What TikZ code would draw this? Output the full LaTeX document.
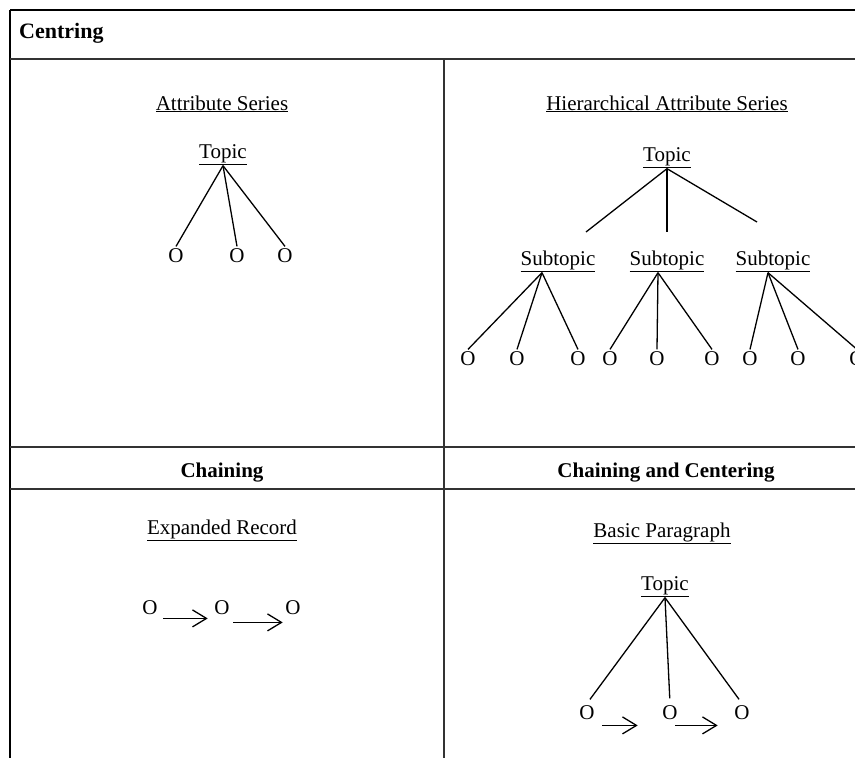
\documentclass[tikz,border=0pt]{standalone}
\usepackage{fontspec}
\setmainfont{Liberation Serif}
\usetikzlibrary{arrows.meta, positioning}

\begin{document}
\begin{tikzpicture}[
    x=1pt, y=-1pt,
    rule/.style={draw=black!80, line width=1.6pt},
    title/.style={font=\fontsize{21}{24}\selectfont, inner sep=1pt, anchor=base},
    head/.style={font=\fontsize{21}{24}\selectfont\bfseries, inner sep=0pt, anchor=base},
    item/.style={font=\fontsize{21}{24}\selectfont, inner sep=1.5pt, anchor=base},
    edge/.style={line width=1.3pt},
    chain/.style={-{Straight Barb[length=14pt, width=17pt, line width=1.3pt]}, line width=1.3pt}
]

\useasboundingbox (0,0) rectangle (855,758);
\clip (0,0) rectangle (855,758);

% table rules
\draw[rule, line width=2.4pt, draw=black] (10,10) -- (855,10);
\draw[rule, line width=2.4pt, draw=black] (10,10) -- (10,758);
\draw[rule] (10,59) -- (855,59);
\draw[rule] (444,59) -- (444,758);
\draw[rule] (10,447) -- (855,447);
\draw[rule] (10,489) -- (855,489);

\node[head, anchor=base west, font=\fontsize{22}{24}\selectfont\bfseries] (centring) at (19,38) {Centring};

% attribute series
\node[title] (attr) at (222,110) {\underline{Attribute Series}};
\node[title] (topicA) at (223,158) {\underline{Topic}};
\foreach \n/\x in {1/176, 2/237, 3/285}
    \node[item] (a\n) at (\x,262) {O};
\foreach \n in {1,2,3}
    \draw[edge] (topicA.south) -- (a\n.north);

% hierarchical attribute series
\node[title] (hier) at (667,110) {\underline{Hierarchical Attribute Series}};
\node[title] (topicB) at (667,161) {\underline{Topic}};
\coordinate (b1) at (586,232);
\coordinate (b2) at (667,232);
\coordinate (b3) at (757,222);
\foreach \n in {1,2,3}
    \draw[edge] (topicB.south) -- (b\n);

\foreach \n/\x in {1/558, 2/667, 3/773}
    \node[title] (sub\n) at (\x,265) {\underline{Subtopic}};
\foreach \n/\x in {1/468, 2/517, 3/578, 4/610, 5/657, 6/712, 7/750, 8/798, 9/857}
    \node[item] (c\n) at (\x,365) {O};
\foreach \s/\c/\d in {1/1/-16, 1/2/-16, 1/3/-16, 2/4/-9, 2/5/-9, 2/6/-9, 3/7/-5, 3/8/-5, 3/9/-5}
    \draw[edge] ([xshift=\d pt]sub\s.south) -- (c\c.north);

% second row headers
\node[head] (chain) at (222,477) {Chaining};
\node[head] (chaincent) at (666,477) {Chaining and Centering};

% expanded record
\node[title] (expand) at (222,534) {\underline{Expanded Record}};
\foreach \n/\x in {1/150, 2/222, 3/293}
    \node[item] (e\n) at (\x,614) {O};
\draw[chain] ([shift={(4,2.5)}]e1.south east) -- ([shift={(-5,2.5)}]e2.south west);
\draw[chain] ([shift={(2,6.5)}]e2.south east) -- ([shift={(-1,6.5)}]e3.south west);

% basic paragraph
\node[title] (basic) at (662,537) {\underline{Basic Paragraph}};
\node[title] (topicC) at (665,590) {\underline{Topic}};
\foreach \n/\x in {1/587, 2/670, 3/742}
    \node[item] (d\n) at (\x,719) {O};
\foreach \n in {1,2,3}
    \draw[edge, shorten >=5pt] (topicC.south) -- (d\n.north);
\draw[chain] ([shift={(6,4.5)}]d1.south east) -- ([shift={(-23,4.5)}]d2.south west);
\draw[chain] ([shift={(-4,4.5)}]d2.south east) -- ([shift={(-15,4.5)}]d3.south west);

\end{tikzpicture}
\end{document}
